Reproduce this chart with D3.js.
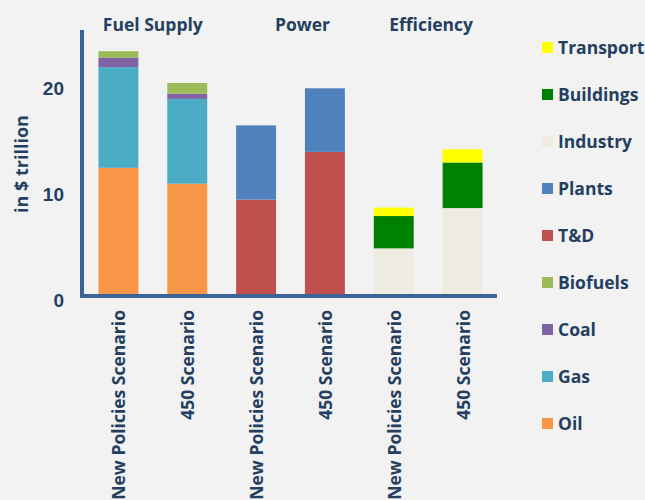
<!DOCTYPE html>
<html>
<head>
<meta charset="utf-8">
<script src="https://cdn.jsdelivr.net/npm/d3@7"></script>
<style>
  body { margin: 0; background: #f2f2f2; }
  svg { display: block; font-family: "Open Sans", "Noto Sans", sans-serif; }
</style>
</head>
<body>
<div id="chart"></div>
<script>
// data
const categories = ['New Policies Scenario', '450 Scenario', 'New Policies Scenario', '450 Scenario', 'New Policies Scenario', '450 Scenario'];
const groups = ['Fuel Supply', 'Power', 'Efficiency'];
const seriesNames = ['Oil', 'Gas', 'Coal', 'Biofuels', 'T&D', 'Plants', 'Industry', 'Buildings', 'Transport'];
const oil       = [12.0, 10.5, 0, 0, 0, 0];
const gas       = [9.5, 8.0, 0, 0, 0, 0];
const coal      = [0.9, 0.5, 0, 0, 0, 0];
const biofuels  = [0.6, 1.0, 0, 0, 0, 0];
const td        = [0, 0, 9.0, 13.5, 0, 0];
const plants    = [0, 0, 7.0, 6.0, 0, 0];
const industry  = [0, 0, 0, 0, 4.4, 8.2];
const buildings = [0, 0, 0, 0, 3.05, 4.3];
const transport = [0, 0, 0, 0, 0.8, 1.25];
const yTicks = [0, 10, 20];

const colors = {
  Oil: '#f79646', Gas: '#4bacc6', Coal: '#8064a2', Biofuels: '#9bbb59',
  'T&D': '#c0504d', Plants: '#4f81bd', Industry: '#eeece1',
  Buildings: '#008000', Transport: '#ffff00'
};
const legendOrder = ['Transport', 'Buildings', 'Industry', 'Plants', 'T&D', 'Biofuels', 'Coal', 'Gas', 'Oil'];
// small horizontal nudges for the group titles (px)
const titleShift = [0, 12, 3];

const seriesValues = [oil, gas, coal, biofuels, td, plants, industry, buildings, transport];
const table = categories.map((c, i) => {
  const row = { idx: i };
  seriesNames.forEach((s, j) => { row[s] = seriesValues[j][i]; });
  return row;
});

const textColor = '#243f60';
const axisColor = '#3b6496';

const svg = d3.select('#chart').append('svg')
  .attr('width', 645)
  .attr('height', 500);

const xScale = d3.scaleBand()
  .domain(d3.range(categories.length))
  .range([84, 497])
  .paddingInner(0.42)
  .paddingOuter(0.21);

const yScale = d3.scaleLinear().domain([0, 25]).range([295, 30]);

// bars
const stack = d3.stack().keys(seriesNames);
const layers = stack(table);

svg.append('g').selectAll('g')
  .data(layers)
  .join('g')
  .attr('fill', (d) => colors[d.key])
  .selectAll('rect')
  .data((d) => d.filter((p) => p[1] - p[0] > 0))
  .join('rect')
  .attr('x', (d) => xScale(d.data.idx))
  .attr('width', xScale.bandwidth())
  .attr('y', (d) => yScale(d[1]))
  .attr('height', (d) => yScale(d[0]) - yScale(d[1]));

// y axis
const yAxis = d3.axisLeft(yScale).tickValues(yTicks).tickSize(0).tickPadding(18);
const yAxisGroup = svg.append('g')
  .attr('transform', 'translate(82,0)')
  .call(yAxis);
yAxisGroup.select('.domain').remove();
yAxisGroup.selectAll('text')
  .attr('dy', '0.6em')
  .attr('fill', textColor)
  .style('font-size', '19px')
  .style('font-weight', 'bold');

// axis lines
svg.append('line')
  .attr('x1', 82).attr('x2', 82)
  .attr('y1', yScale(25)).attr('y2', 297)
  .attr('stroke', axisColor).attr('stroke-width', 4);
svg.append('line')
  .attr('x1', 80).attr('x2', 497)
  .attr('y1', 296).attr('y2', 296)
  .attr('stroke', axisColor).attr('stroke-width', 4);

// category labels
svg.append('g').selectAll('text')
  .data(categories)
  .join('text')
  .attr('transform', (d, i) => 'translate(' + (xScale(i) + xScale.bandwidth() / 2 + 7) + ',310) rotate(-90)')
  .attr('text-anchor', 'end')
  .attr('fill', textColor)
  .style('font-size', '17.5px')
  .style('font-weight', 'bold')
  .text((d) => d);

// group titles
svg.append('g').selectAll('text')
  .data(groups)
  .join('text')
  .attr('x', (d, i) => (xScale(i * 2) + xScale(i * 2 + 1) + xScale.bandwidth()) / 2 + titleShift[i])
  .attr('y', 31)
  .attr('text-anchor', 'middle')
  .attr('fill', textColor)
  .style('font-size', '17.5px')
  .style('font-weight', 'bold')
  .text((d) => d);

// y axis title
svg.append('text')
  .attr('transform', 'translate(28,164) rotate(-90)')
  .attr('text-anchor', 'middle')
  .attr('fill', textColor)
  .style('font-size', '18px')
  .style('font-weight', 'bold')
  .text('in $ trillion');

// legend
const legend = svg.append('g').selectAll('g')
  .data(legendOrder)
  .join('g')
  .attr('transform', (d, i) => 'translate(542,' + (48 + i * 47.0) + ')');
legend.append('rect')
  .attr('x', 0).attr('y', -6)
  .attr('width', 11).attr('height', 11)
  .attr('fill', (d) => colors[d]);
legend.append('text')
  .attr('x', 16)
  .attr('dy', '0.35em')
  .attr('fill', textColor)
  .style('font-size', '17.5px')
  .style('font-weight', 'bold')
  .text((d) => d);
</script>
</body>
</html>
